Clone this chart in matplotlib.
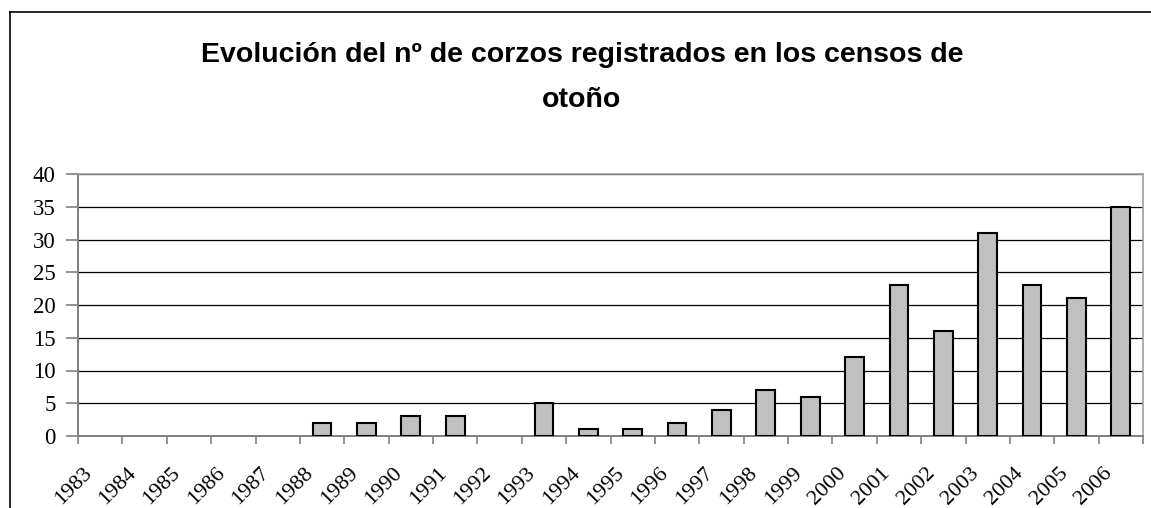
import matplotlib
matplotlib.use('Agg')
import matplotlib.pyplot as plt
import matplotlib.transforms as mtransforms
from matplotlib.lines import Line2D
import numpy as np

# Datos
years = ['1983', '1984', '1985', '1986', '1987', '1988', '1989', '1990',
         '1991', '1992', '1993', '1994', '1995', '1996', '1997', '1998',
         '1999', '2000', '2001', '2002', '2003', '2004', '2005', '2006']
corzos = [0, 0, 0, 0, 0, 2, 2, 3, 3, 0, 5, 1, 1, 2, 4, 7, 6, 12, 23, 16, 31, 23, 21, 35]
y_ticks = [0, 5, 10, 15, 20, 25, 30, 35, 40]

W, H, DPI = 1151, 508, 100
fig = plt.figure(figsize=(W / DPI, H / DPI), dpi=DPI)
fig.patch.set_facecolor('white')

# borde del área del gráfico (recortado por la derecha y abajo)
fig.add_artist(Line2D([10 / W, 10 / W], [0, 1 - 12 / H], color='black', lw=1.2))
fig.add_artist(Line2D([10 / W, 1], [1 - 12 / H, 1 - 12 / H], color='black', lw=1.2))

ax = fig.add_axes([78 / W, 1 - 436 / H, (1143 - 78) / W, (436 - 174) / H])

x = np.arange(len(years))
# los años con 0 no tienen barra visible
vals = np.array(corzos, dtype=float)
mask = vals > 0
ax.bar(x[mask], vals[mask], width=0.42, color='#c0c0c0', edgecolor='black',
       linewidth=1.5, zorder=3)

ax.set_xlim(-0.5, len(years) - 0.5)
ax.set_ylim(0, 40)
ax.set_yticks(y_ticks)
ax.set_yticklabels([str(t) for t in y_ticks], family='Liberation Serif', fontsize=16.5)
ax.yaxis.grid(True, color='black', linewidth=0.9, zorder=0)
ax.set_axisbelow(True)

ax.set_xticks(x)
ax.set_xticklabels(years, family='Liberation Serif', fontsize=16, rotation=45,
                   ha='right', va='top', rotation_mode='anchor')
ax.set_xticks(np.arange(len(years) + 1) - 0.5, minor=True)
ax.tick_params(axis='x', which='major', length=0, pad=0)
ax.tick_params(axis='x', which='minor', length=6, color='#808080', width=1.2, direction='out')
ax.tick_params(axis='y', length=9, color='#808080', width=1.2, direction='out', pad=7)

offset = mtransforms.ScaledTranslation(-18 / DPI, -28 / DPI, fig.dpi_scale_trans)
for lab in ax.get_xticklabels():
    lab.set_transform(lab.get_transform() + offset)

for side in ['top', 'right']:
    ax.spines[side].set_color('#a0a0a0')
    ax.spines[side].set_linewidth(1.2)
for side in ['left', 'bottom']:
    ax.spines[side].set_color('#808080')
    ax.spines[side].set_linewidth(1.4)

fig.text(582 / W, 1 - 55 / H, 'Evolución del nº de corzos registrados en los censos de',
         ha='center', va='center', family='Liberation Sans', fontweight='bold', fontsize=20.5)
fig.text(582 / W, 1 - 100 / H, 'otoño',
         ha='center', va='center', family='Liberation Sans', fontweight='bold', fontsize=20.5)

fig.savefig('out.png', dpi=DPI)
